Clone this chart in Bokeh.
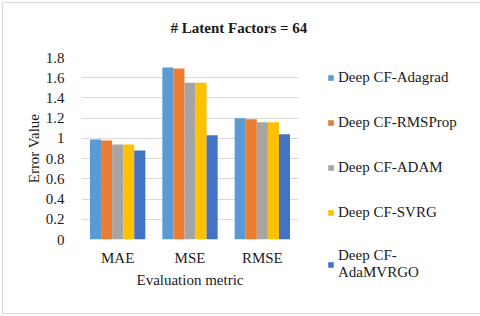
from bokeh.plotting import figure
from bokeh.models import (FactorRange, Legend, LegendItem, ColumnDataSource,
                          FixedTicker, Title)
from bokeh.transform import dodge
from bokeh.embed import file_html
from bokeh.resources import INLINE

# ---- data ----
metrics = ["MAE", "MSE", "RMSE"]
series_names = ["Deep CF-Adagrad", "Deep CF-RMSProp", "Deep CF-ADAM",
                "Deep CF-SVRG", "Deep CF-\nAdaMVRGO"]
adagrad = [0.99, 1.70, 1.20]
rmsprop = [0.98, 1.69, 1.19]
adam = [0.94, 1.55, 1.16]
svrg = [0.94, 1.55, 1.16]
adamvrgo = [0.88, 1.03, 1.04]
colors = ["#5B9BD5", "#ED7D31", "#A5A5A5", "#FFC000", "#4472C4"]
y_tick_values = [0, 0.2, 0.4, 0.6, 0.8, 1, 1.2, 1.4, 1.6, 1.8]
y_tick_labels = ["0", "0.2", "0.4", "0.6", "0.8", "1", "1.2", "1.4", "1.6", "1.8"]
title_text = "# Latent Factors = 64"
x_title = "Evaluation metric"
y_title = "Error Value"

FONT = "Times"
TXT = "#1a1a1a"

src = ColumnDataSource(dict(metric=metrics, s0=adagrad, s1=rmsprop, s2=adam,
                            s3=svrg, s4=adamvrgo))

p = figure(width=474, height=310, output_backend="svg", toolbar_location=None,
           x_range=FactorRange(factors=metrics, range_padding=0),
           y_range=(0, 1.8),
           frame_width=217, frame_height=182,
           min_border_left=78, min_border_right=179,
           min_border_top=54, min_border_bottom=74)
p.x_range.range_padding = 0
p.outline_line_color = None
p.background_fill_color = "white"
p.border_fill_color = "white"
p.styles = {"border": "1px solid #d9d9d9", "margin": "2px"}

bw = 0.153
offsets = [-2 * bw, -bw, 0, bw, 2 * bw]
renderers = []
for i, col in enumerate(["s0", "s1", "s2", "s3", "s4"]):
    r = p.vbar(x=dodge("metric", offsets[i], range=p.x_range), top=col, width=bw,
               bottom=0, source=src, fill_color=colors[i], line_color=None)
    renderers.append(r)

# axes
p.xgrid.grid_line_color = None
p.ygrid.grid_line_color = "#d9d9d9"
p.ygrid.grid_line_width = 1
p.yaxis.ticker = FixedTicker(ticks=y_tick_values)
p.yaxis.major_label_overrides = {v: t for v, t in zip(y_tick_values, y_tick_labels)}
for ax in (p.xaxis, p.yaxis):
    ax.axis_line_color = None
    ax.major_tick_line_color = None
    ax.minor_tick_line_color = None
    ax.major_label_text_font = FONT
    ax.major_label_text_font_size = "15px"
    ax.major_label_text_color = TXT
    ax.axis_label_text_font = FONT
    ax.axis_label_text_font_size = "15px"
    ax.axis_label_text_font_style = "normal"
    ax.axis_label_text_color = TXT
p.xaxis.axis_label = x_title
p.yaxis.axis_label = y_title
p.yaxis.major_label_standoff = 11
p.yaxis.axis_label_standoff = 1
p.xaxis.major_label_standoff = 4
p.xaxis.axis_label_standoff = 3

# title (a blank spacer title keeps the real one higher above the frame)
spacer = Title(text=" ", standoff=4, text_font=FONT, text_font_size="15px")
p.add_layout(spacer, "above")
title = Title(text=title_text, align="left", offset=89, standoff=0,
              vertical_align="bottom",
              text_font=FONT, text_font_size="15px", text_font_style="bold",
              text_color=TXT)
p.add_layout(title, "above")

# legend
items = [LegendItem(label=series_names[i], renderers=[renderers[i]]) for i in range(5)]
legend = Legend(items=items, location=(29, -42), orientation="vertical",
                glyph_width=7, glyph_height=7, label_height=20, spacing=25,
                label_standoff=4, padding=0, margin=0,
                label_text_font=FONT, label_text_font_size="15px",
                label_text_color=TXT, border_line_color=None,
                background_fill_alpha=0)
p.add_layout(legend, "right")

open("out.html", "w").write(file_html(p, INLINE))
